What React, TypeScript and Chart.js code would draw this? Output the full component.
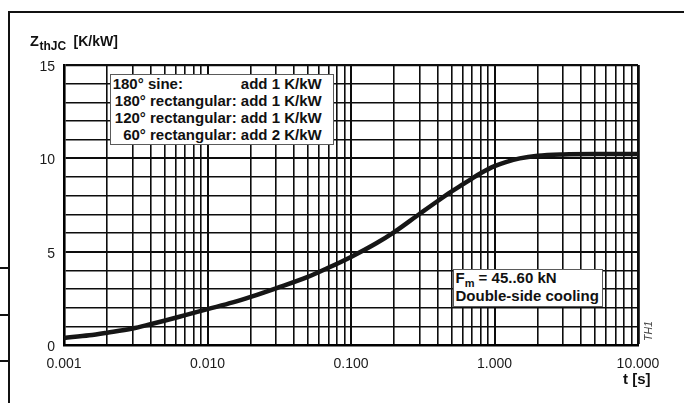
import React, { useEffect, useRef } from "react";
import { Chart, registerables } from "chart.js";

Chart.register(...registerables);

// ---- data ----
const tValues = [
  0.001, 0.0015, 0.002, 0.003, 0.004, 0.005, 0.007, 0.01, 0.015, 0.02, 0.03,
  0.05, 0.07, 0.1, 0.15, 0.2, 0.3, 0.4, 0.5, 0.6, 0.7, 0.8, 1, 1.2, 1.5, 2, 3, 5, 10,
];
const zValues = [
  0.38, 0.52, 0.66, 0.88, 1.11, 1.3, 1.6, 1.92, 2.28, 2.58, 3.04,
  3.65, 4.15, 4.72, 5.45, 6.05, 7.02, 7.7, 8.21, 8.6, 8.93, 9.2, 9.58, 9.8, 10.0, 10.14, 10.21, 10.23, 10.23,
];
const decades = [0.001, 0.01, 0.1, 1, 10];
const decadeLabels = ["0.001", "0.010", "0.100", "1.000", "10.000"];
const yMin = 0;
const yMax = 15;
const yLabelEvery = 5;
const legendRows = [
  ["180° sine:", "add 1 K/kW"],
  ["180° rectangular:", "add 1 K/kW"],
  ["120° rectangular:", "add 1 K/kW"],
  ["60° rectangular:", "add 2 K/kW"],
];
const yTitleMain = "Z";
const yTitleSub = "thJC";
const yTitleUnit = "[K/kW]";
const xTitle = "t [s]";
const noteSymbol = "F";
const noteSub = "m";
const noteLine1 = " = 45..60 kN";
const noteLine2 = "Double-side cooling";
const figId = "TH1";

const FONT = '"Liberation Sans", Arial, Helvetica, sans-serif';

function gridValues(): number[] {
  const out: number[] = [];
  for (let i = 0; i < decades.length - 1; i++) {
    for (let m = 1; m <= 9; m++) out.push(m * decades[i]);
  }
  out.push(decades[decades.length - 1]);
  return out;
}

function decadeIndex(v: number): number {
  return decades.findIndex((d) => Math.abs(d - v) / d < 1e-6);
}

function T(props: {
  x?: number;
  right?: number;
  base: number;
  size: number;
  bold?: boolean;
  style?: React.CSSProperties;
  children: React.ReactNode;
}) {
  const { x, right, base, size, bold, style, children } = props;
  const pos: React.CSSProperties = {};
  if (x !== undefined) pos.left = x;
  if (right !== undefined) pos.right = 684 - right;
  return (
    <div
      style={{
        position: "absolute",
        top: base - 0.8465 * size,
        fontSize: size,
        lineHeight: `${size}px`,
        fontWeight: bold ? 700 : 400,
        whiteSpace: "pre",
        fontFamily: FONT,
        color: "#111",
        ...pos,
        ...style,
      }}
    >
      {children}
    </div>
  );
}

export default function App() {
  const canvasRef = useRef<HTMLCanvasElement | null>(null);

  useEffect(() => {
    if (!canvasRef.current) return;
    const pts = tValues.map((t, i) => ({ x: t, y: zValues[i] }));
    const chart = new Chart(canvasRef.current, {
      type: "line",
      data: {
        datasets: [
          {
            data: pts,
            borderColor: "#161616",
            borderWidth: 4.5,
            pointRadius: 0,
            cubicInterpolationMode: "monotone",
            fill: false,
          },
        ],
      },
      options: {
        animation: false,
        responsive: false,
        devicePixelRatio: 1,
        layout: { padding: { top: 65, right: 46, left: 0, bottom: 0 } },
        plugins: {
          legend: { display: false },
          tooltip: { enabled: false },
          title: { display: false },
        },
        scales: {
          x: {
            type: "logarithmic",
            min: decades[0],
            max: decades[decades.length - 1],
            afterBuildTicks: (scale: any) => {
              scale.ticks = gridValues().map((v) => ({ value: v }));
            },
            afterFit: (scale: any) => {
              scale.height = 58;
            },
            border: { display: true, color: "#000", width: 2.6 },
            grid: {
              color: "#0d0d0d",
              drawTicks: false,
              lineWidth: (ctx: any) => {
                const v = ctx.tick ? ctx.tick.value : 0;
                if (Math.abs(v - decades[decades.length - 1]) < 1e-9) return 2.8;
                return decadeIndex(v) >= 0 ? 2 : 1.6;
              },
            },
            ticks: {
              autoSkip: false,
              maxRotation: 0,
              padding: 11,
              color: "#1a1a1a",
              font: { family: FONT, size: 14 },
              callback: (value: any) => {
                const i = decadeIndex(Number(value));
                return i >= 0 ? decadeLabels[i] : "";
              },
            },
          },
          y: {
            type: "linear",
            min: yMin,
            max: yMax,
            afterFit: (scale: any) => {
              scale.width = 64;
            },
            border: { display: true, color: "#000", width: 2.6 },
            grid: {
              color: "#0d0d0d",
              drawTicks: false,
              lineWidth: (ctx: any) => {
                const v = ctx.tick ? ctx.tick.value : 0;
                if (v === yMax) return 2.2;
                return v % yLabelEvery === 0 ? 2 : 1.6;
              },
            },
            ticks: {
              stepSize: 1,
              autoSkip: false,
              padding: 9,
              labelOffset: 2,
              color: "#1a1a1a",
              font: { family: FONT, size: 14 },
              callback: (value: any) =>
                Number(value) % yLabelEvery === 0 ? String(value) : "",
            },
          },
        },
      },
    });
    return () => chart.destroy();
  }, []);

  return (
    <div
      style={{
        position: "absolute",
        left: 0,
        top: 0,
        width: 684,
        height: 403,
        background: "#fff",
        overflow: "hidden",
      }}
    >
      {/* page frame */}
      <div style={{ position: "absolute", left: 8, top: 10.5, width: 676, height: 2, background: "#111" }} />
      <div style={{ position: "absolute", left: 8, top: 10.5, width: 2, height: 393, background: "#111" }} />
      <div style={{ position: "absolute", left: 0, top: 267, width: 9, height: 2, background: "#111" }} />
      <div style={{ position: "absolute", left: 0, top: 314, width: 9, height: 2, background: "#111" }} />
      <div style={{ position: "absolute", left: 0, top: 360, width: 9, height: 2, background: "#111" }} />

      <canvas
        ref={canvasRef}
        width={684}
        height={403}
        style={{ position: "absolute", left: 0, top: 0, width: 684, height: 403 }}
      />

      {/* y axis title */}
      <T x={30} base={46} size={14.5} bold>
        {yTitleMain}
      </T>
      <T x={39.5} base={50} size={12} bold>
        {yTitleSub}
      </T>
      <T x={73.5} base={46} size={14} bold>
        {yTitleUnit}
      </T>

      {/* x axis title */}
      <T right={650.5} base={383.5} size={15} bold>
        {xTitle}
      </T>

      {/* conduction-angle box */}
      <div
        style={{
          position: "absolute",
          left: 110,
          top: 74,
          width: 223.5,
          height: 70.5,
          border: "1.5px solid #5a5a5a",
          background: "#fff",
          boxSizing: "border-box",
        }}
      />
      {legendRows.map((r, i) =>
        i === 0 ? (
          <div
            key={i}
            style={{
              position: "absolute",
              left: 112.7,
              width: 321.7 - 112.7,
              top: 88.7 + 17 * i - 0.8465 * 15,
              display: "flex",
              justifyContent: "space-between",
              fontSize: 15,
              lineHeight: "15px",
              fontWeight: 700,
              fontFamily: FONT,
              color: "#111",
              whiteSpace: "pre",
            }}
          >
            <span>{r[0]}</span>
            <span>{r[1]}</span>
          </div>
        ) : (
          <T key={i} right={321.7} base={88.7 + 17 * i} size={15} bold>
            {r[0] + " " + r[1]}
          </T>
        )
      )}

      {/* clamping force box */}
      <div
        style={{
          position: "absolute",
          left: 453.3,
          top: 269.3,
          width: 150,
          height: 38,
          border: "1.5px solid #5a5a5a",
          background: "#fff",
          boxSizing: "border-box",
        }}
      />
      <T x={455.5} base={282.5} size={15} bold>
        {noteSymbol}
        <span style={{ fontSize: 11, position: "relative", top: 4 }}>{noteSub}</span>
        {noteLine1}
      </T>
      <T x={455.5} base={301} size={15} bold>
        {noteLine2}
      </T>

      {/* figure id */}
      <div
        style={{
          position: "absolute",
          left: 647.5,
          top: 331,
          transform: "translate(-50%, -50%) rotate(-90deg)",
          fontSize: 10.5,
          lineHeight: "11px",
          fontStyle: "italic",
          fontFamily: FONT,
          color: "#444",
          whiteSpace: "pre",
        }}
      >
        {figId}
      </div>
    </div>
  );
}
